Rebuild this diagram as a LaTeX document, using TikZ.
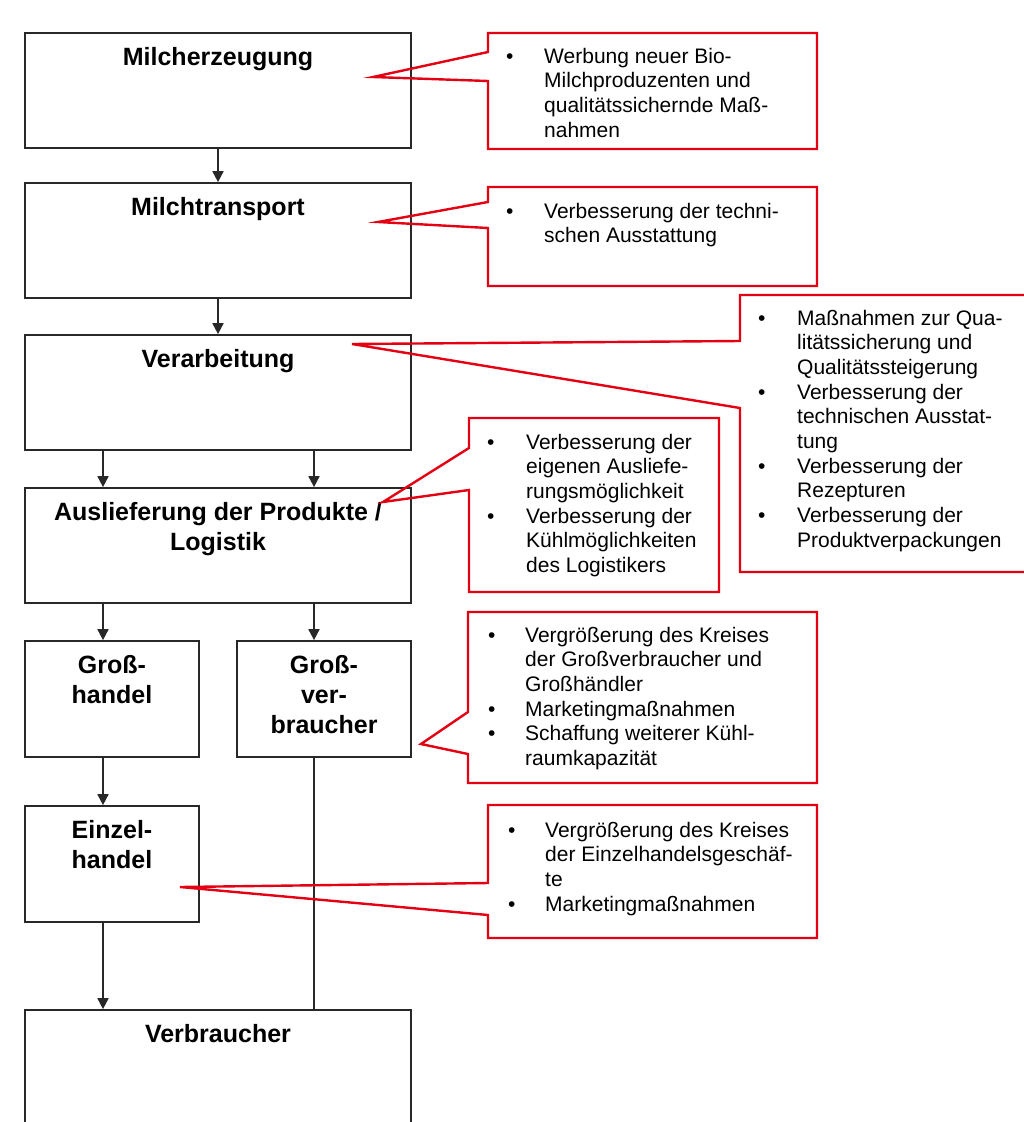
\documentclass[tikz,border=0pt]{standalone}
\usepackage{fontspec}
\setmainfont{Liberation Sans}
\usetikzlibrary{arrows.meta}
\definecolor{noteRed}{RGB}{228,0,18}
\definecolor{boxGray}{RGB}{40,40,40}
\newcommand{\notelist}[2]{\begin{tabular}[t]{@{}p{#1}@{}l@{}}#2\end{tabular}}

\begin{document}
\begin{tikzpicture}
[x=1pt,y=-1pt,
  stageBox/.style={draw=boxGray,line width=1.7pt,inner sep=0pt},
  stageTitle/.style={anchor=north,inner sep=0pt,align=center,font=\fontsize{25}{30}\selectfont\bfseries},
  flowArrow/.style={-{Triangle[length=11pt,width=11pt]},line width=1.7pt,draw=boxGray},
  flowLine/.style={-,line width=1.7pt,draw=boxGray},
  noteFrame/.style={draw=noteRed,line width=2.4pt,line join=miter},
  noteText/.style={anchor=base west,inner sep=0pt,font=\fontsize{21}{24.7}\selectfont}]
\useasboundingbox (0,0) rectangle (1024,1122);
%% columns of the arrows
\coordinate (colL) at (103,0);
\coordinate (colR) at (314,0);
%% stages
\foreach \boxname/\cx/\cy/\w/\h in {
  erz/218/90.5/386/115,
  trans/218/240.5/386/115,
  verarb/218/392.5/386/115,
  ausl/218/545.5/386/115,
  ghandel/112/699/174/116,
  gverbr/324/699/174/116,
  ehandel/112/864/174/116,
  verbr/218/1070/386/120}
{
  \node (\boxname) at (\cx,\cy) [stageBox,minimum width=\w pt,minimum height=\h pt] {};
}
\node[stageTitle] (erzT) at ([yshift=-15pt]erz.north) {Milcherzeugung};
\node[stageTitle] (transT) at ([yshift=-15pt]trans.north) {Milchtransport};
\node[stageTitle] (verarbT) at ([yshift=-15pt]verarb.north) {Verarbeitung};
\node[stageTitle] (auslT) at ([yshift=-15pt]ausl.north) {Auslieferung der Produkte /\\Logistik};
\node[stageTitle] (ghandelT) at ([yshift=-15pt]ghandel.north) {Groß-\\handel};
\node[stageTitle] (gverbrT) at ([yshift=-15pt]gverbr.north) {Groß-\\ver-\\braucher};
\node[stageTitle] (ehandelT) at ([yshift=-15pt]ehandel.north) {Einzel-\\handel};
\node[stageTitle] (verbrT) at ([yshift=-15pt]verbr.north) {Verbraucher};
%% flow
\draw[flowArrow] (erz) -- (trans);
\draw[flowArrow] (trans) -- (verarb);
\draw[flowArrow] (verarb.south -| colL) -- (ausl.north -| colL);
\draw[flowArrow] (verarb.south -| colR) -- (ausl.north -| colR);
\draw[flowArrow] (ausl.south -| colL) -- (ghandel.north -| colL);
\draw[flowArrow] (ausl.south -| colR) -- (gverbr.north -| colR);
\draw[flowArrow] (ghandel.south -| colL) -- (ehandel.north -| colL);
\draw[flowArrow] (ehandel.south -| colL) -- (verbr.north -| colL);
\draw[flowLine] (gverbr.south -| colR) -- (verbr.north -| colR);
%% callouts
\foreach \xa/\ya/\xb/\yb/\na/\tx/\ty/\nb in {
  488/33/817/149/52/373/77/81,
  488/187/817/286/202/378/222/228,
  740/295/1030/572/341/352/344/408,
  469/418/719/592/448/383/502/490,
  468/612/817/783/712/421/744/754,
  488/805/817/938/883/180/887/915}
{
  \draw[noteFrame] (\xa,\ya) -- (\xb,\ya) -- (\xb,\yb) -- (\xa,\yb) -- (\xa,\nb)
    -- (\tx,\ty) -- (\xa,\na) -- cycle;
}
\node[noteText] (noteErz) at (506,63) {\notelist{38pt}{%
  \textbullet & Werbung neuer Bio-\\
  & Milchproduzenten und\\
  & qualitätssichernde Maß-\\
  & nahmen}};
\node[noteText] (noteTrans) at (506,218) {\notelist{38pt}{%
  \textbullet & Verbesserung der techni-\\
  & schen Ausstattung}};
\node[noteText] (noteVerarb) at (758,325) {\notelist{39pt}{%
  \textbullet & Maßnahmen zur Qua-\\
  & litätssicherung und\\
  & Qualitätssteigerung\\
  \textbullet & Verbesserung der\\
  & technischen Ausstat-\\
  & tung\\
  \textbullet & Verbesserung der\\
  & Rezepturen\\
  \textbullet & Verbesserung der\\
  & Produktverpackungen}};
\node[noteText] (noteAusl) at (487,449) {\notelist{39pt}{%
  \textbullet & Verbesserung der\\
  & eigenen Ausliefe-\\
  & rungsmöglichkeit\\
  \textbullet & Verbesserung der\\
  & Kühlmöglichkeiten\\
  & des Logistikers}};
\node[noteText] (noteGverbr) at (488,642) {\notelist{37pt}{%
  \textbullet & Vergrößerung des Kreises\\
  & der Großverbraucher und\\
  & Großhändler\\
  \textbullet & Marketingmaßnahmen\\
  \textbullet & Schaffung weiterer Kühl-\\
  & raumkapazität}};
\node[noteText] (noteEhandel) at (508,837) {\notelist{37pt}{%
  \textbullet & Vergrößerung des Kreises\\
  & der Einzelhandelsgeschäf-\\
  & te\\
  \textbullet & Marketingmaßnahmen}};
\end{tikzpicture}
\end{document}
